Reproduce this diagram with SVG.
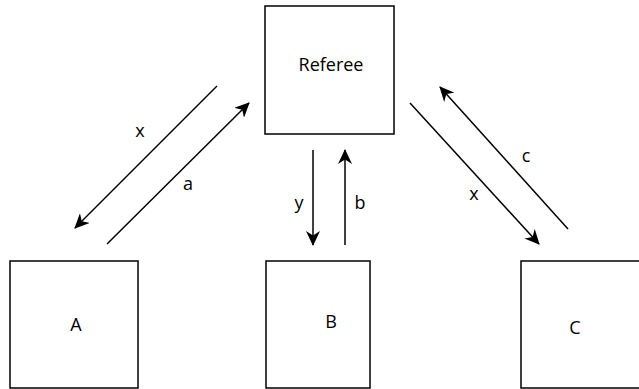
<svg xmlns="http://www.w3.org/2000/svg" width="639" height="389" viewBox="0 0 639 389">
  <style>
    .box { fill: #ffffff; stroke: #000000; stroke-width: 1.5; }
    .lbl { font-family: "Open Sans", "Liberation Sans", sans-serif; font-size: 18px; fill: #000000; text-anchor: middle; }
    .edge { stroke: #000000; stroke-width: 1.5; fill: none; marker-end: url(#head); }
  </style>
  <defs>
    <marker id="head" viewBox="0 0 15 14" refX="14" refY="7" markerWidth="15" markerHeight="14" markerUnits="userSpaceOnUse" orient="auto">
      <path d="M0,0 L15,7 L0,14 L4.5,7 Z" fill="#000000"/>
    </marker>
  </defs>
  <rect width="639" height="389" fill="#ffffff"/>

  <g id="referee">
    <rect class="box" x="265" y="6" width="129" height="128"/>
    <text class="lbl" x="331" y="71">Referee</text>
  </g>
  <g id="node-a">
    <rect class="box" x="10" y="261" width="128" height="127"/>
    <text class="lbl" x="76" y="331">A</text>
  </g>
  <g id="node-b">
    <rect class="box" x="266" y="261" width="104" height="127"/>
    <text class="lbl" x="331" y="328">B</text>
  </g>
  <g id="node-c">
    <rect class="box" x="521" y="261" width="130" height="127"/>
    <text class="lbl" x="575" y="334">C</text>
  </g>

  <g id="connectors">
    <line class="edge" x1="217" y1="86" x2="75" y2="228"/>
    <line class="edge" x1="107" y1="244" x2="249" y2="103"/>
    <line class="edge" x1="313" y1="150" x2="313" y2="245"/>
    <line class="edge" x1="345" y1="245" x2="345" y2="150"/>
    <line class="edge" x1="410" y1="103" x2="539" y2="244"/>
    <line class="edge" x1="568" y1="229" x2="440" y2="87"/>
    <text class="lbl" x="140" y="137">x</text>
    <text class="lbl" x="188" y="190">a</text>
    <text class="lbl" x="299" y="209">y</text>
    <text class="lbl" x="360" y="209">b</text>
    <text class="lbl" x="526" y="162">c</text>
    <text class="lbl" x="474" y="200">x</text>
  </g>
</svg>
